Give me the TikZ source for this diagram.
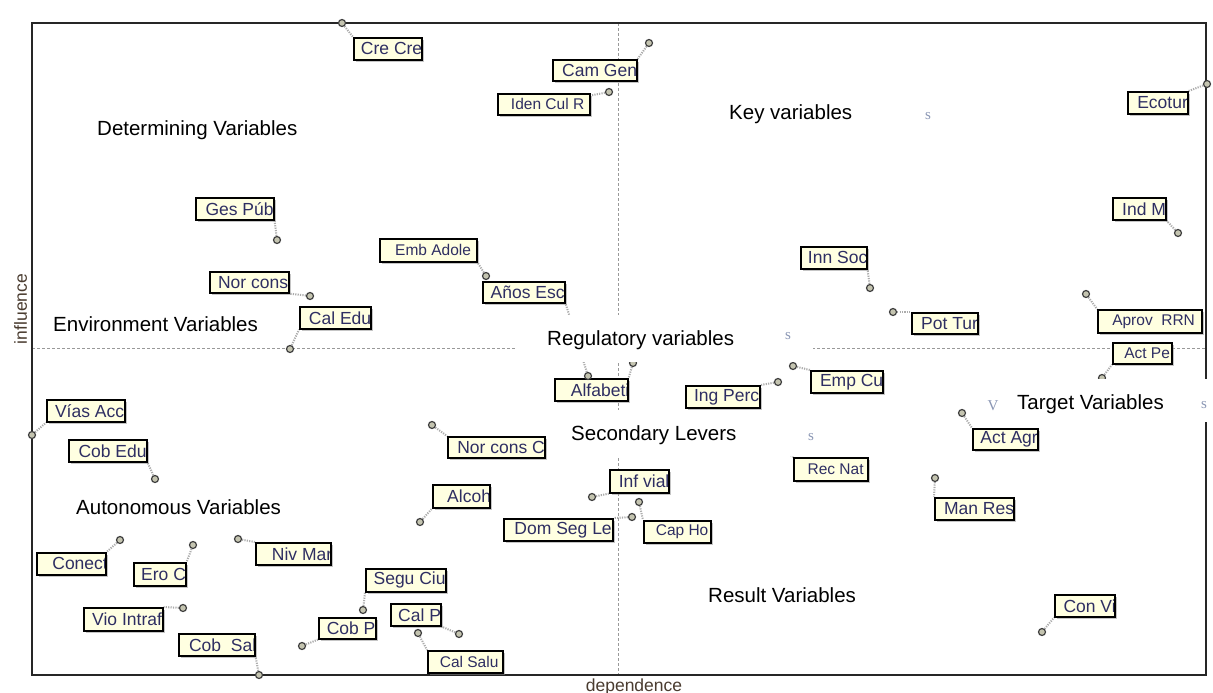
\documentclass[tikz,border=0pt]{standalone}
\usepackage{fontspec}
\setmainfont{Liberation Sans}
\newfontfamily\glyphserif{Liberation Serif}
\usetikzlibrary{shadows}
\definecolor{cream}{HTML}{FFFFE1}
\definecolor{vtext}{HTML}{2E2E62}
\definecolor{dotfill}{HTML}{C4C4B0}
\definecolor{axlab}{HTML}{4A3C30}
\definecolor{ghost}{HTML}{8A96B4}
\pgfdeclarelayer{bg}
\pgfdeclarelayer{back}
\pgfsetlayers{back,bg,main}
\newcommand\fbig{\fontsize{17.5}{18}\selectfont}
\newcommand\fsml{\fontsize{15.5}{16}\selectfont}
\newcommand\fquad{\fontsize{20.5}{22}\selectfont}
\tikzset{
  vbox/.style={draw=black, line width=1.6pt, fill=cream, inner sep=0pt, anchor=north west,
    drop shadow={shadow xshift=2.4pt, shadow yshift=-2.4pt, fill=black!45, draw=none}},
  vdot/.style={circle, draw=black!75, fill=dotfill, line width=1.2pt, minimum size=7pt, inner sep=0pt},
  conn/.style={draw=gray!65, line width=2pt, dash pattern=on 1.2pt off 1.2pt},
  axisline/.style={draw=gray!80, line width=0.8pt, dash pattern=on 3pt off 2pt},
  wbox/.style={fill=white, draw=none, inner sep=0pt, anchor=north west},
  qlab/.style={anchor=base west, inner sep=0pt, font=\fquad, text=black},
  ghostglyph/.style={inner sep=0pt, font=\glyphserif\fontsize{15}{15}\selectfont, text=ghost},
  axlabel/.style={inner sep=0pt, anchor=base, font=\fontsize{17.5}{18}\selectfont, text=axlab}
}
% name, x1, y1, x2, y2, text, font, inset
\newcommand\vb[8]{%
  \node[vbox, minimum width={(#4-#2)*1pt}, minimum height={(#5-#3)*1pt},
    path picture={\node[anchor=west, inner sep=0pt, text=vtext, font=#7] (#1t)
      at ([xshift=#8pt]path picture bounding box.west) {#6};}] (#1) at (#2,#3) {};}
\newcommand\dt[3]{\node[vdot] (#1) at (#2,#3) {};}
\begin{document}
\begin{tikzpicture}[x=1pt, y=-1pt]
\useasboundingbox (0,0) rectangle (1213,693);
\begin{pgfonlayer}{back}
\fill[white] (0,0) rectangle (1213,693);
\end{pgfonlayer}
% frame and axes
\draw[axisline] (618,23) -- (618,675);
\draw[axisline] (32,348) -- (1206,348);
\draw[line width=1.5pt, draw=black!85] (32,23) rectangle (1206,675);
\node[axlabel, rotate=90] (inflab) at (27,309) {influence};
\node[axlabel] (deplab) at (634,691) {dependence};
% variable boxes
\vb{crecre}{353}{37}{421}{59}{Cre Cre}{\fbig}{3}
\vb{camgen}{552}{59}{636}{80}{Cam Gen}{\fbig}{4}
\vb{iden}{497}{93}{589}{114}{Iden Cul R}{\fsml}{3}
\vb{ecotur}{1127}{91}{1187}{113}{Ecotur}{\fbig}{4}
\vb{indm}{1112}{197}{1165}{219}{Ind M}{\fbig}{4}
\vb{gespub}{195}{197}{273}{219}{Ges Púb}{\fbig}{4}
\vb{emb}{379}{238}{476}{261}{Emb Adole}{\fsml}{4}
\vb{anos}{482}{281}{564}{302}{Años Esc}{\fbig}{3}
\vb{norcons}{209}{271}{288}{292}{Nor cons}{\fbig}{3}
\vb{caledu}{299}{306}{370}{328}{Cal Edu}{\fbig}{4}
\vb{innsoc}{800}{246}{866}{268}{Inn Soc}{\fbig}{3}
\vb{pottur}{911}{312}{977}{333}{Pot Tur}{\fbig}{4}
\vb{aprov}{1097}{309}{1201}{332}{Aprov\ \ RRN}{\fsml}{3}
\vb{actpe}{1112}{342}{1171}{363}{Act Pe}{\fsml}{4}
\vb{alfa}{554}{378}{627}{400}{Alfabeti}{\fbig}{8}
\vb{ingperc}{685}{385}{759}{407}{Ing Perc}{\fbig}{3}
\vb{empcu}{810}{370}{882}{392}{Emp Cu}{\fbig}{4}
\vb{vias}{46}{399}{124}{421}{Vías Acc}{\fbig}{3}
\vb{cobedu}{68}{439}{146}{461}{Cob Edu}{\fbig}{4}
\vb{norconsc}{447}{436}{544}{457}{Nor cons C}{\fbig}{4}
\vb{actagr}{972}{428}{1037}{449}{Act Agr}{\fbig}{3}
\vb{recnat}{793}{457}{867}{480}{Rec Nat}{\fsml}{4}
\vb{infvial}{609}{469}{668}{492}{Inf vial}{\fbig}{4}
\vb{alcoh}{432}{484}{489}{507}{Alcoh}{\fbig}{7}
\vb{domseg}{503}{518}{612}{540}{Dom Seg Le}{\fbig}{4}
\vb{capho}{643}{520}{710}{542}{Cap Ho}{\fsml}{4}
\vb{manres}{934}{497}{1013}{519}{Man Res}{\fbig}{4}
\vb{conect}{36}{552}{105}{574}{Conect}{\fbig}{8}
\vb{eroc}{133}{562}{185}{585}{Ero C}{\fbig}{3}
\vb{nivmar}{255}{542}{330}{564}{Niv Mar}{\fbig}{8}
\vb{seguciu}{365}{568}{445}{591}{Segu Ciu}{\fbig}{3}
\vb{viointraf}{83}{607}{162}{630}{Vio Intraf}{\fbig}{3}
\vb{calp}{390}{603}{440}{625}{Cal P}{\fbig}{3}
\vb{cobp}{318}{617}{375}{638}{Cob P}{\fbig}{3}
\vb{calsalu}{427}{650}{502}{672}{Cal Salu}{\fsml}{3}
\vb{cobsal}{178}{633}{254}{655}{Cob\ \ Sal}{\fbig}{5}
\vb{convi}{1054}{594}{1114}{616}{Con Vi}{\fbig}{4}
% points
\dt{dcrecre}{342}{23}
\dt{dcamgen}{649}{43}
\dt{diden}{609}{92}
\dt{decotur}{1207}{84}
\dt{dindm}{1178}{233}
\dt{dgespub}{277}{240}
\dt{demb}{486}{276}
\dt{danos}{588}{376}
\dt{dnorcons}{310}{296}
\dt{dcaledu}{290}{349}
\dt{dvias}{32}{435}
\dt{dcobedu}{155}{479}
\dt{dconect}{120}{540}
\dt{deroc}{193}{545}
\dt{dnivmar}{238}{539}
\dt{dviointraf}{183}{608}
\dt{dcobsal}{259}{675}
\dt{dcobp}{302}{646}
\dt{dseguciu}{363}{610}
\dt{dcalp}{459}{634}
\dt{dcalsalu}{418}{633}
\dt{dalcoh}{420}{522}
\dt{dnorconsc}{432}{425}
\dt{dinfvial}{592}{497}
\dt{ddomseg}{632}{517}
\dt{dcapho}{639}{502}
\dt{dingperc}{778}{382}
\dt{dempcu}{793}{366}
\dt{dinnsoc}{870}{288}
\dt{dpottur}{893}{312}
\dt{daprov}{1086}{294}
\dt{dactpe}{1102}{378}
\dt{dactagr}{962}{413}
\dt{dmanres}{935}{478}
\dt{dconvi}{1042}{632}
\dt{dalfa}{633}{363}
\coordinate (drecnat) at (787,452);
% connectors
\begin{pgfonlayer}{bg}
\draw[conn] (dcrecre) -- (crecre.north west);
\draw[conn] (dcamgen) -- (camgen.north east);
\draw[conn] (diden) -- (iden);
\draw[conn] (decotur) -- (ecotur.north east);
\draw[conn] (dindm) -- (indm.south east);
\draw[conn] (dgespub) -- (gespub.south east);
\draw[conn] (demb) -- (emb.south east);
\draw[conn] (danos) -- (anos.south east);
\draw[conn] (dnorcons) -- (norcons.south east);
\draw[conn] (dcaledu) -- (caledu.south west);
\draw[conn] (dvias) -- (vias.south west);
\draw[conn] (dcobedu) -- (cobedu.south east);
\draw[conn] (dconect) -- (conect.north east);
\draw[conn] (deroc) -- (eroc.north east);
\draw[conn] (dnivmar) -- (nivmar.north west);
\draw[conn] (dviointraf) -- (viointraf.north east);
\draw[conn] (dcobsal) -- (cobsal.south east);
\draw[conn] (dcobp) -- (cobp.south west);
\draw[conn] (dseguciu) -- (seguciu.south west);
\draw[conn] (dcalp) -- (calp.south east);
\draw[conn] (dcalsalu) -- (calsalu.north west);
\draw[conn] (dalcoh) -- (alcoh.south west);
\draw[conn] (dnorconsc) -- (norconsc.north west);
\draw[conn] (dinfvial) -- (infvial.south west);
\draw[conn] (ddomseg) -- (domseg.north east);
\draw[conn] (dcapho) -- (capho.north west);
\draw[conn] (dingperc) -- (ingperc.north east);
\draw[conn] (dempcu) -- (empcu.north west);
\draw[conn] (drecnat) -- (recnat.north west);
\draw[conn] (dinnsoc) -- (innsoc.south east);
\draw[conn] (dpottur) -- (pottur.north west);
\draw[conn] (daprov) -- (aprov.north west);
\draw[conn] (dactpe) -- (actpe.south west);
\draw[conn] (dactagr) -- (actagr.north west);
\draw[conn] (dmanres) -- (manres.north west);
\draw[conn] (dconvi) -- (convi.south west);
\draw[conn] (dalfa) -- (alfa.north east);
\end{pgfonlayer}
% white label backgrounds
\node[wbox, minimum width=296pt, minimum height=47pt] (regbg) at (517,315) {};
\node[wbox, minimum width=244pt, minimum height=46pt] (secbg) at (556,410) {};
\node[wbox, minimum width=213pt, minimum height=43pt] (tarbg) at (1000,379) {};
% quadrant labels
\node[qlab] (detlab) at (97,135) {Determining Variables};
\node[qlab] (keylab) at (729,119) {Key variables};
\node[qlab] (envlab) at (53,331) {Environment Variables};
\node[qlab] (reglab) at (547,345) {Regulatory variables};
\node[qlab] (seclab) at (571,440) {Secondary Levers};
\node[qlab] (tarlab) at (1017,409) {Target Variables};
\node[qlab] (autlab) at (76,514) {Autonomous Variables};
\node[qlab] (reslab) at (708,602) {Result Variables};
% stray glyph fragments
\node[ghostglyph] (g1) at (928,116) {s};
\node[ghostglyph] (g2) at (788,336) {s};
\node[ghostglyph] (g3) at (811,437) {s};
\node[ghostglyph] (g4) at (993,406) {V};
\node[ghostglyph] (g5) at (1204,405) {s};
\end{tikzpicture}
\end{document}
